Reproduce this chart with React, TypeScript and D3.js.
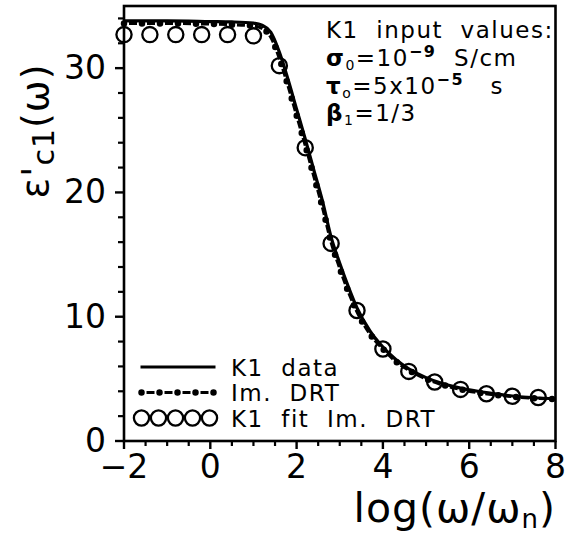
import React from "react";
import * as d3 from "d3";

// ---- data ----
const xCurve = [-2, -1, 0, 0.5, 1.0, 1.2, 1.4, 1.6, 1.8, 2.0, 2.2, 2.4, 2.6, 2.8, 3.0, 3.2, 3.4, 3.7, 4.0, 4.3, 4.6, 5.0, 5.4, 5.8, 6.2, 6.6, 7.0, 7.5, 8.0];
const k1Data = [33.8, 33.8, 33.75, 33.72, 33.62, 33.45, 32.9, 31.3, 29.1, 26.7, 24.3, 21.8, 19.3, 16.4, 14.3, 12.4, 10.7, 8.85, 7.55, 6.55, 5.8, 5.1, 4.6, 4.25, 4.0, 3.8, 3.62, 3.48, 3.4];
const imDrt = [33.6, 33.6, 33.55, 33.5, 33.4, 33.2, 32.5, 30.8, 28.6, 26.2, 23.8, 21.3, 18.8, 16.0, 13.9, 12.0, 10.4, 8.6, 7.4, 6.4, 5.7, 5.0, 4.5, 4.15, 3.9, 3.72, 3.57, 3.45, 3.37];
const xFit = [-2, -1.4, -0.8, -0.2, 0.4, 1.0, 1.6, 2.2, 2.8, 3.4, 4.0, 4.6, 5.2, 5.8, 6.4, 7.0, 7.6];
const k1Fit = [32.7, 32.7, 32.7, 32.7, 32.7, 32.6, 30.2, 23.6, 15.9, 10.5, 7.4, 5.6, 4.75, 4.15, 3.8, 3.6, 3.5];
const xMajor = [-2, 0, 2, 4, 6, 8];
const yMajor = [0, 10, 20, 30];
const NB = "\u00A0";
const legendLabels = [`K1${NB}${NB}data`, `Im.${NB}${NB}DRT`, `K1${NB}${NB}fit${NB}${NB}Im.${NB}${NB}DRT`];

const FONT = "DejaVu Sans, sans-serif";

export default function App() {
  const W = 565, H = 536;
  const x = d3.scaleLinear().domain([-2, 8]).range([124, 555.5]);
  const y = d3.scaleLinear().domain([0, 35]).range([441, 6]);

  const line = d3
    .line<number>()
    .x((_, i) => x(xCurve[i]))
    .y((d) => y(d))
    .curve(d3.curveMonotoneX);

  const xMinor = d3.range(-2, 8.001, 0.5).filter((v) => !xMajor.some((m) => Math.abs(m - v) < 1e-6));
  const yMinor = d3.range(0, 35, 2).filter((v) => !yMajor.includes(v));

  const dashStyle = { strokeDasharray: "8,10", strokeDashoffset: 13 };
  const dotStyle = { strokeDasharray: "0,18", strokeLinecap: "round" as const };

  const lx0 = 141.5, lx1 = 213.5;
  const ly = [367, 392.5, 418];

  return (
    <svg width={W} height={H} style={{ position: "absolute", left: 0, top: 0, background: "#fff" }} fontFamily={FONT}>
      <rect x={0} y={0} width={W} height={H} fill="#fff" />
      {/* curves */}
      <path d={line(imDrt) || ""} fill="none" stroke="#000" strokeWidth={3.2} style={dashStyle} />
      <path d={line(imDrt) || ""} fill="none" stroke="#000" strokeWidth={6.5} style={dotStyle} />
      <path d={line(k1Data) || ""} fill="none" stroke="#000" strokeWidth={3.2} />
      {xFit.map((v, i) => (
        <circle key={i} cx={x(v)} cy={y(k1Fit[i])} r={7.6} fill="none" stroke="#000" strokeWidth={2.3} />
      ))}

      {/* frame */}
      <rect x={x(-2)} y={y(35)} width={x(8) - x(-2)} height={y(0) - y(35)} fill="none" stroke="#000" strokeWidth={2.6} />

      {/* x ticks */}
      {xMajor.map((v) => (
        <g key={"xm" + v}>
          <line x1={x(v)} x2={x(v)} y1={y(0)} y2={y(0) + 8} stroke="#000" strokeWidth={2.4} />
          <text x={x(v)} y={478} fontSize={33} textAnchor="middle">{v < 0 ? "\u2212" + Math.abs(v) : String(v)}</text>
        </g>
      ))}
      {xMinor.map((v) => (
        <line key={"xn" + v} x1={x(v)} x2={x(v)} y1={y(0)} y2={y(0) + 5} stroke="#000" strokeWidth={2.2} />
      ))}

      {/* y ticks */}
      {yMajor.map((v) => (
        <g key={"ym" + v}>
          <line x1={x(-2) - 9} x2={x(-2)} y1={y(v)} y2={y(v)} stroke="#000" strokeWidth={2.4} />
          <text x={106} y={y(v) + 11} fontSize={33} textAnchor="end">{String(v)}</text>
        </g>
      ))}
      {yMinor.map((v) => (
        <line key={"yn" + v} x1={x(-2) - 6} x2={x(-2)} y1={y(v)} y2={y(v)} stroke="#000" strokeWidth={2.2} />
      ))}

      {/* axis labels */}
      <text x={556} y={522} fontSize={41} textAnchor="end" letterSpacing={1}>
        log(ω/ω<tspan fontSize={26} dy={6}>n</tspan><tspan dy={-6}>)</tspan>
      </text>
      <text transform="translate(48,131) rotate(-90)" fontSize={38} textAnchor="middle" letterSpacing={1}>
        ε'<tspan fontSize={30} dy={6}>c1</tspan><tspan dy={-6}>(ω)</tspan>
      </text>

      {/* annotation */}
      <g fontSize={23} letterSpacing={1.5}>
        <text x={326} y={38}>{`K1${NB}${NB}input${NB}${NB}values:`}</text>
        <text x={326} y={66}>
          <tspan fontWeight="bold">σ</tspan><tspan fontSize={14} dy={4}>0</tspan><tspan dy={-4}>=10</tspan>
          <tspan fontSize={16} fontWeight="bold" dy={-9}>−9</tspan><tspan dy={9}>{`${NB}${NB}S/cm`}</tspan>
        </text>
        <text x={326} y={94}>
          <tspan fontWeight="bold">τ</tspan><tspan fontSize={14} dy={4}>o</tspan><tspan dy={-4}>=5x10</tspan>
          <tspan fontSize={16} fontWeight="bold" dy={-9}>−5</tspan><tspan dy={9}>{`${NB}${NB}${NB}s`}</tspan>
        </text>
        <text x={326} y={121}>
          <tspan fontWeight="bold">β</tspan><tspan fontSize={14} dy={4}>1</tspan><tspan dy={-4}>=1/3</tspan>
        </text>
      </g>

      {/* legend */}
      <line x1={lx0 - 1} x2={lx1 + 2} y1={ly[0]} y2={ly[0]} stroke="#000" strokeWidth={3.2} />
      <line x1={lx0} x2={lx1 + 0.5} y1={ly[1]} y2={ly[1]} stroke="#000" strokeWidth={3.2} style={dashStyle} />
      <line x1={lx0} x2={lx1 + 0.5} y1={ly[1]} y2={ly[1]} stroke="#000" strokeWidth={6.5} style={dotStyle} />
      {d3.range(5).map((i) => (
        <circle key={"lc" + i} cx={141.5 + 17 * i} cy={ly[2]} r={7.6} fill="none" stroke="#000" strokeWidth={2.3} />
      ))}
      <g fontSize={23} letterSpacing={1.5}>
        {legendLabels.map((t, i) => (
          <text key={t} x={231} y={ly[i] + 8.5}>{t}</text>
        ))}
      </g>
    </svg>
  );
}
